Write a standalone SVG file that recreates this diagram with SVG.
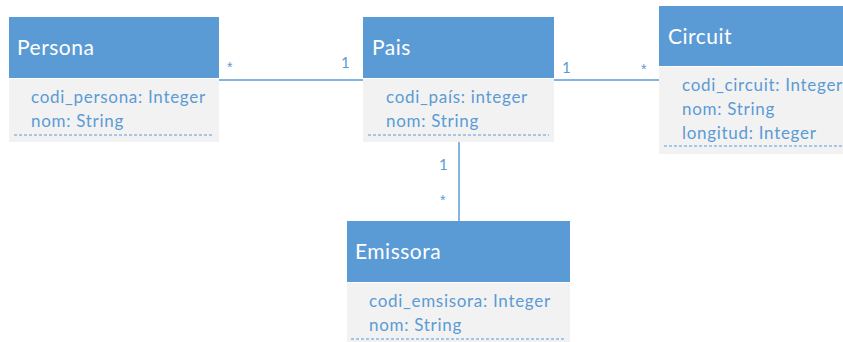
<svg xmlns="http://www.w3.org/2000/svg" width="843" height="342" viewBox="0 0 843 342">
<style>
.hd{fill:#5B9BD5}
.bd{fill:#F2F2F2}
.dash{stroke:#5B9BD5;stroke-width:1;stroke-dasharray:3,2;fill:none}
.title{font-family:Lato,"Liberation Sans",sans-serif;font-size:21px;letter-spacing:0.5px;fill:#FFFFFF}
.attr{font-family:Lato,"Liberation Sans",sans-serif;font-size:17px;letter-spacing:0.7px;fill:#5B9BD5}
.lbl{font-family:Lato,"Liberation Sans",sans-serif;font-size:15px;fill:#5B9BD5}
.ast{font-family:"Liberation Sans",sans-serif;font-size:14px;fill:#5B9BD5}
.conn{stroke:#5B9BD5;stroke-width:1.5;fill:none}
</style>
<rect width="843" height="342" fill="#FFFFFF"/>
<g id="connectors">
<line class="conn" x1="219" y1="80" x2="363" y2="80"/>
<line class="conn" x1="554" y1="80" x2="659" y2="80"/>
<line class="conn" x1="459" y1="142" x2="459" y2="221"/>
<text class="ast" x="227" y="72">*</text>
<text class="lbl" x="341" y="68">1</text>
<text class="lbl" x="562" y="73">1</text>
<text class="ast" x="641" y="74">*</text>
<text class="lbl" x="439" y="170">1</text>
<text class="ast" x="440" y="205">*</text>
</g>
<g id="persona">
<rect class="hd" x="9" y="17" width="210" height="61"/>
<rect class="bd" x="9" y="79" width="210" height="63"/>
<line class="dash" x1="14" y1="135" x2="214" y2="135"/>
<text class="title" x="17" y="55">Persona</text>
<text class="attr" x="31" y="103">codi_persona: Integer</text>
<text class="attr" x="31" y="127">nom: String</text>
</g>
<g id="pais">
<rect class="hd" x="363" y="17" width="191" height="61"/>
<rect class="bd" x="363" y="79" width="191" height="63"/>
<line class="dash" x1="368" y1="135" x2="549" y2="135"/>
<text class="title" x="372" y="55">Pais</text>
<text class="attr" x="386" y="103">codi_país: integer</text>
<text class="attr" x="386" y="127">nom: String</text>
</g>
<g id="circuit">
<rect class="hd" x="659" y="6" width="184" height="60"/>
<rect class="bd" x="659" y="67" width="184" height="87"/>
<line class="dash" x1="664" y1="146" x2="843" y2="146"/>
<text class="title" x="668" y="44">Circuit</text>
<text class="attr" x="682" y="91">codi_circuit: Integer</text>
<text class="attr" x="682" y="115">nom: String</text>
<text class="attr" x="682" y="139">longitud: Integer</text>
</g>
<g id="emissora">
<rect class="hd" x="347" y="221" width="223" height="61"/>
<rect class="bd" x="347" y="283" width="223" height="59"/>
<line class="dash" x1="351" y1="339" x2="566" y2="339"/>
<text class="title" x="355" y="259">Emissora</text>
<text class="attr" x="369" y="307">codi_emsisora: Integer</text>
<text class="attr" x="369" y="331">nom: String</text>
</g>
</svg>
